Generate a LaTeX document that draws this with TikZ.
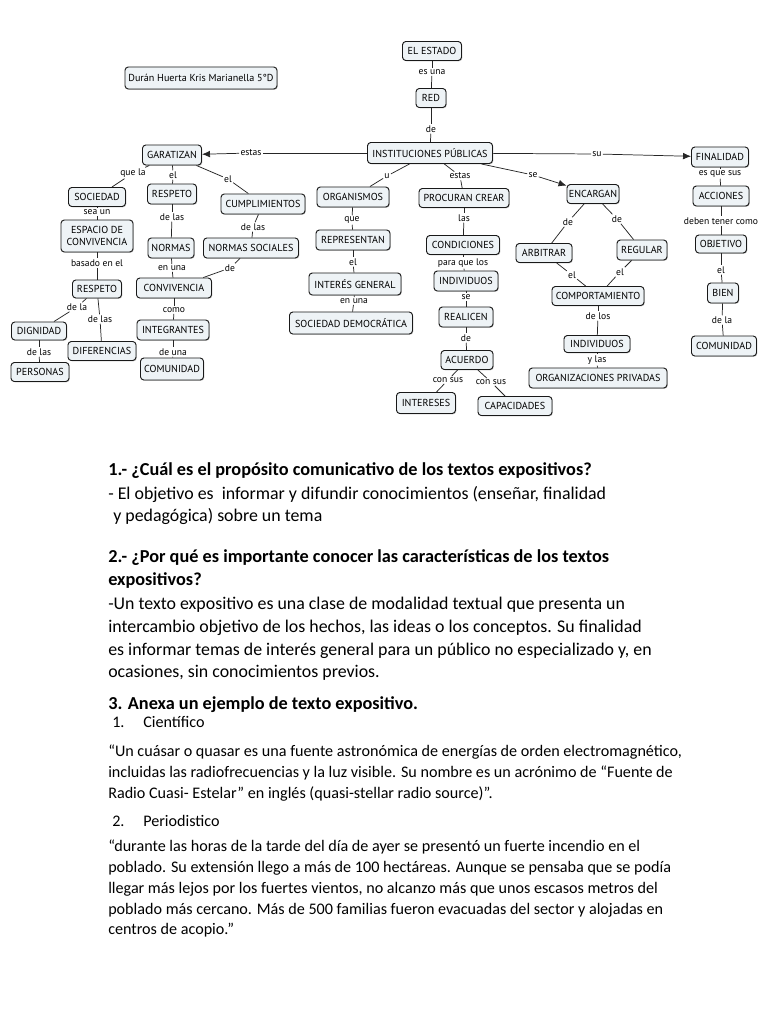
\documentclass[tikz,border=0pt]{standalone}
\usepackage{fontspec}
\usetikzlibrary{arrows.meta,shadows}
\newfontfamily\mapf{PT Sans}
\newfontfamily\bodyf{Carlito}
\definecolor{boxfill}{RGB}{238,243,246}
\newdimen\pu \pu=0.75pt
\newcommand\bx[6]{\node[cbox, minimum width=#4\pu, minimum height=#5\pu] (#1) at (#2,#3) {#6};}
\newcommand\lb[4]{\node[clab] (#1) at (#2,#3) {#4};}
\tikzset{
  cbox/.style={draw=black!90, line width=0.7pt, rounded corners=2.5pt, fill=boxfill, inner sep=1pt, align=center, font=\mapf\fontsize{7.6}{8.4}\selectfont,
    drop shadow={shadow xshift=0.6pt, shadow yshift=-0.6pt, opacity=0.35, fill=black!60}},
  clab/.style={inner sep=0.8pt, font=\mapf\fontsize{7.2}{8}\selectfont},
  cline/.style={draw=black!85, line width=0.55pt},
  carr/.style={cline, -{Latex[length=6pt,width=5pt]}},
  htxt/.style={anchor=base west, inner sep=0pt, font=\bodyf\bfseries\fontsize{13.7}{16}\selectfont},
  btxt/.style={anchor=base west, inner sep=0pt, font=\bodyf\fontsize{13.4}{16}\selectfont},
  stxt/.style={anchor=base west, inner sep=0pt, font=\bodyf\fontsize{12.1}{14}\selectfont}
}
\begin{document}
\begin{tikzpicture}[x=0.75pt, y=-0.75pt]
\useasboundingbox (0,0) rectangle (768,1024);
\fill[white] (0,0) rectangle (768,1024);
% boxes
\bx{dur}{201}{78}{152}{22}{Durán Huerta Kris Marianella 5°D}
\bx{est}{432}{51}{59}{19}{EL ESTADO}
\bx{red}{431}{98}{30}{19}{RED}
\bx{ins}{430}{153}{125}{21}{INSTITUCIONES PÚBLICAS}
\bx{gar}{172}{155}{59}{20}{GARATIZAN}
\bx{fin}{720}{157}{57}{20}{FINALIDAD}
\bx{enc}{593}{194}{52}{19}{ENCARGAN}
\bx{acc}{721}{196}{56}{20}{ACCIONES}
\bx{obj}{721}{244}{51}{18}{OBJETIVO}
\bx{bien}{723}{293}{31}{20}{BIEN}
\bx{comr}{724}{346}{65}{20}{COMUNIDAD}
\bx{arb}{544}{253}{56}{19}{ARBITRAR}
\bx{reg}{642}{250}{50}{20}{REGULAR}
\bx{comp}{598}{296}{92}{19}{COMPORTAMIENTO}
\bx{indr}{597}{344}{66}{17}{INDIVIDUOS}
\bx{org}{598}{378}{138}{20}{ORGANIZACIONES PRIVADAS}
\bx{orgm}{353}{197}{72}{20}{ORGANISMOS}
\bx{rep}{353}{240}{74}{20}{REPRESENTAN}
\bx{intg}{355}{284}{92}{22}{INTERÉS GENERAL}
\bx{socd}{351}{323}{123}{22}{SOCIEDAD DEMOCRÁTICA}
\bx{proc}{464}{198}{90}{19}{PROCURAN CREAR}
\bx{cond}{463}{245}{73}{19}{CONDICIONES}
\bx{indm}{466}{281}{64}{20}{INDIVIDUOS}
\bx{real}{466}{317}{54}{20}{REALICEN}
\bx{acu}{467}{360}{52}{19}{ACUERDO}
\bx{inte}{426}{403}{59}{21}{INTERESES}
\bx{cap}{515}{406}{74}{19}{CAPACIDADES}
\bx{soc}{97}{197}{57}{19}{SOCIEDAD}
\bx{resp1}{172}{194}{49}{20}{RESPETO}
\bx{cump}{263}{204}{84}{20}{CUMPLIMIENTOS}
\bx{esp}{97}{236}{72}{32}{ESPACIO DE\\CONVIVENCIA}
\bx{norm}{171}{248}{46}{20}{NORMAS}
\bx{norms}{251}{248}{95}{20}{NORMAS SOCIALES}
\bx{resp2}{97}{289}{49}{18}{RESPETO}
\bx{conv}{174}{288}{75}{20}{CONVIVENCIA}
\bx{dig}{39}{331}{55}{18}{DIGNIDAD}
\bx{intr}{173}{330}{72}{20}{INTEGRANTES}
\bx{dif}{102}{351}{68}{19}{DIFERENCIAS}
\bx{pers}{40}{372}{58}{19}{PERSONAS}
\bx{coml}{172}{369}{63}{22}{COMUNIDAD}
% labels
\lb{l1}{432}{72}{es una}
\lb{l2}{431}{129}{de}
\lb{l3}{251}{153}{estas}
\lb{l4}{597}{154}{su}
\lb{l5}{533}{175}{se}
\lb{l6}{387}{176}{u}
\lb{l7}{460}{176}{estas}
\lb{l8}{133}{173}{que la}
\lb{l9}{173}{175}{el}
\lb{l10}{228}{179}{el}
\lb{l11}{97}{212}{sea un}
\lb{l12}{172}{217}{de las}
\lb{l13}{253}{227}{de las}
\lb{l14}{97}{263}{basado en el}
\lb{l15}{172}{268}{en una}
\lb{l16}{230}{268}{de}
\lb{l17}{77}{307}{de la}
\lb{l18}{100}{319}{de las}
\lb{l19}{174}{310}{como}
\lb{l20}{39}{352}{de las}
\lb{l21}{173}{352}{de una}
\lb{l22}{352}{220}{que}
\lb{l23}{353}{262}{el}
\lb{l24}{354}{301}{en una}
\lb{l25}{464}{218}{las}
\lb{l26}{463}{263}{para que los}
\lb{l27}{466}{297}{se}
\lb{l28}{466}{338}{de}
\lb{l29}{448}{380}{con sus}
\lb{l30}{491}{382}{con sus}
\lb{l31}{568}{222}{de}
\lb{l32}{617}{219}{de}
\lb{l33}{572}{275}{el}
\lb{l34}{620}{272}{el}
\lb{l35}{598}{316}{de los}
\lb{l36}{597}{360}{y las}
\lb{l37}{720}{174}{es que sus}
\lb{l38}{721}{221}{deben tener como}
\lb{l39}{721}{270}{el}
\lb{l40}{722}{320}{de la}
% connectors
\begin{scope}[on background layer/.try]
\end{scope}
\draw[cline] (est) -- (l1); \draw[cline] (l1) -- (red);
\draw[cline] (red) -- (l2); \draw[cline] (l2) -- (ins);
\draw[cline] (ins) -- (l3); \draw[carr] (l3) -- (gar);
\draw[cline] (ins) -- (l4); \draw[carr] (l4) -- (fin);
\draw[cline] (ins) -- (l5); \draw[carr] (l5) -- (enc);
\draw[cline] (ins) -- (l6); \draw[cline] (l6) -- (orgm);
\draw[cline] (ins) -- (l7); \draw[cline] (l7) -- (proc);
\draw[cline] (gar) -- (l8); \draw[cline] (l8) -- (soc);
\draw[cline] (gar) -- (l9); \draw[cline] (l9) -- (resp1);
\draw[cline] (gar) -- (l10); \draw[cline] (l10) -- (cump);
\draw[cline] (soc) -- (l11); \draw[cline] (l11) -- (esp);
\draw[cline] (resp1) -- (l12); \draw[cline] (l12) -- (norm);
\draw[cline] (cump) -- (l13); \draw[cline] (l13) -- (norms);
\draw[cline] (esp) -- (l14); \draw[cline] (l14) -- (resp2);
\draw[cline] (norm) -- (l15); \draw[cline] (l15) -- (conv);
\draw[cline] (norms) -- (l16); \draw[cline] (l16) -- (conv);
\draw[cline] (resp2) -- (l17); \draw[cline] (l17) -- (dig);
\draw[cline] (resp2) -- (l18); \draw[cline] (l18) -- (dif);
\draw[cline] (conv) -- (l19); \draw[cline] (l19) -- (intr);
\draw[cline] (dig) -- (l20); \draw[cline] (l20) -- (pers);
\draw[cline] (intr) -- (l21); \draw[cline] (l21) -- (coml);
\draw[cline] (orgm) -- (l22); \draw[cline] (l22) -- (rep);
\draw[cline] (rep) -- (l23); \draw[cline] (l23) -- (intg);
\draw[cline] (intg) -- (l24); \draw[cline] (l24) -- (socd);
\draw[cline] (proc) -- (l25); \draw[cline] (l25) -- (cond);
\draw[cline] (cond) -- (l26); \draw[cline] (l26) -- (indm);
\draw[cline] (indm) -- (l27); \draw[cline] (l27) -- (real);
\draw[cline] (real) -- (l28); \draw[cline] (l28) -- (acu);
\draw[cline] (acu) -- (l29); \draw[cline] (l29) -- (inte);
\draw[cline] (acu) -- (l30); \draw[cline] (l30) -- (cap);
\draw[cline] (enc) -- (l31); \draw[cline] (l31) -- (arb);
\draw[cline] (enc) -- (l32); \draw[cline] (l32) -- (reg);
\draw[cline] (arb) -- (l33); \draw[cline] (l33) -- (comp);
\draw[cline] (reg) -- (l34); \draw[cline] (l34) -- (comp);
\draw[cline] (comp) -- (l35); \draw[cline] (l35) -- (indr);
\draw[cline] (indr) -- (l36); \draw[cline] (l36) -- (org);
\draw[cline] (fin) -- (l37); \draw[cline] (l37) -- (acc);
\draw[cline] (acc) -- (l38); \draw[cline] (l38) -- (obj);
\draw[cline] (obj) -- (l39); \draw[cline] (l39) -- (bien);
\draw[cline] (bien) -- (l40); \draw[cline] (l40) -- (comr);
% text
\node[htxt] (h1) at (108,475) {1.- ¿Cuál es el propósito comunicativo de los textos expositivos?};
\node[btxt] (t1a) at (108,499) {- El objetivo es \ informar y difundir conocimientos (enseñar, finalidad};
\node[btxt] (t1b) at (113,521) {y pedagógica) sobre un tema};
\node[htxt] (h2a) at (108,562) {2.- ¿Por qué es importante conocer las características de los textos};
\node[htxt] (h2b) at (108,585) {expositivos?};
\node[btxt] (t2a) at (108,609) {-Un texto expositivo es una clase de modalidad textual que presenta un};
\node[btxt] (t2b) at (108,632) {intercambio objetivo de los hechos, las ideas o los conceptos. Su finalidad};
\node[btxt] (t2c) at (108,655) {es informar temas de interés general para un público no especializado y, en};
\node[btxt] (t2d) at (108,677) {ocasiones, sin conocimientos previos.};
\node[htxt] (h3) at (108,709) {3. Anexa un ejemplo de texto expositivo.};
\node[stxt] (n1) at (112,727) {1.};
\node[stxt] (n1t) at (143,727) {Científico};
\node[stxt] (q1a) at (108,756) {“Un cuásar o quasar es una fuente astronómica de energías de orden electromagnético,};
\node[stxt] (q1b) at (108,777) {incluidas las radiofrecuencias y la luz visible. Su nombre es un acrónimo de “Fuente de};
\node[stxt] (q1c) at (108,798) {Radio Cuasi- Estelar” en inglés (quasi-stellar radio source)”.};
\node[stxt] (n2) at (112,826) {2.};
\node[stxt] (n2t) at (143,826) {Periodistico};
\node[stxt] (q2a) at (108,851) {“durante las horas de la tarde del día de ayer se presentó un fuerte incendio en el};
\node[stxt] (q2b) at (108,872) {poblado. Su extensión llego a más de 100 hectáreas. Aunque se pensaba que se podía};
\node[stxt] (q2c) at (108,893) {llegar más lejos por los fuertes vientos, no alcanzo más que unos escasos metros del};
\node[stxt] (q2d) at (108,914) {poblado más cercano. Más de 500 familias fueron evacuadas del sector y alojadas en};
\node[stxt] (q2e) at (108,934) {centros de acopio.”};
\end{tikzpicture}
\end{document}
